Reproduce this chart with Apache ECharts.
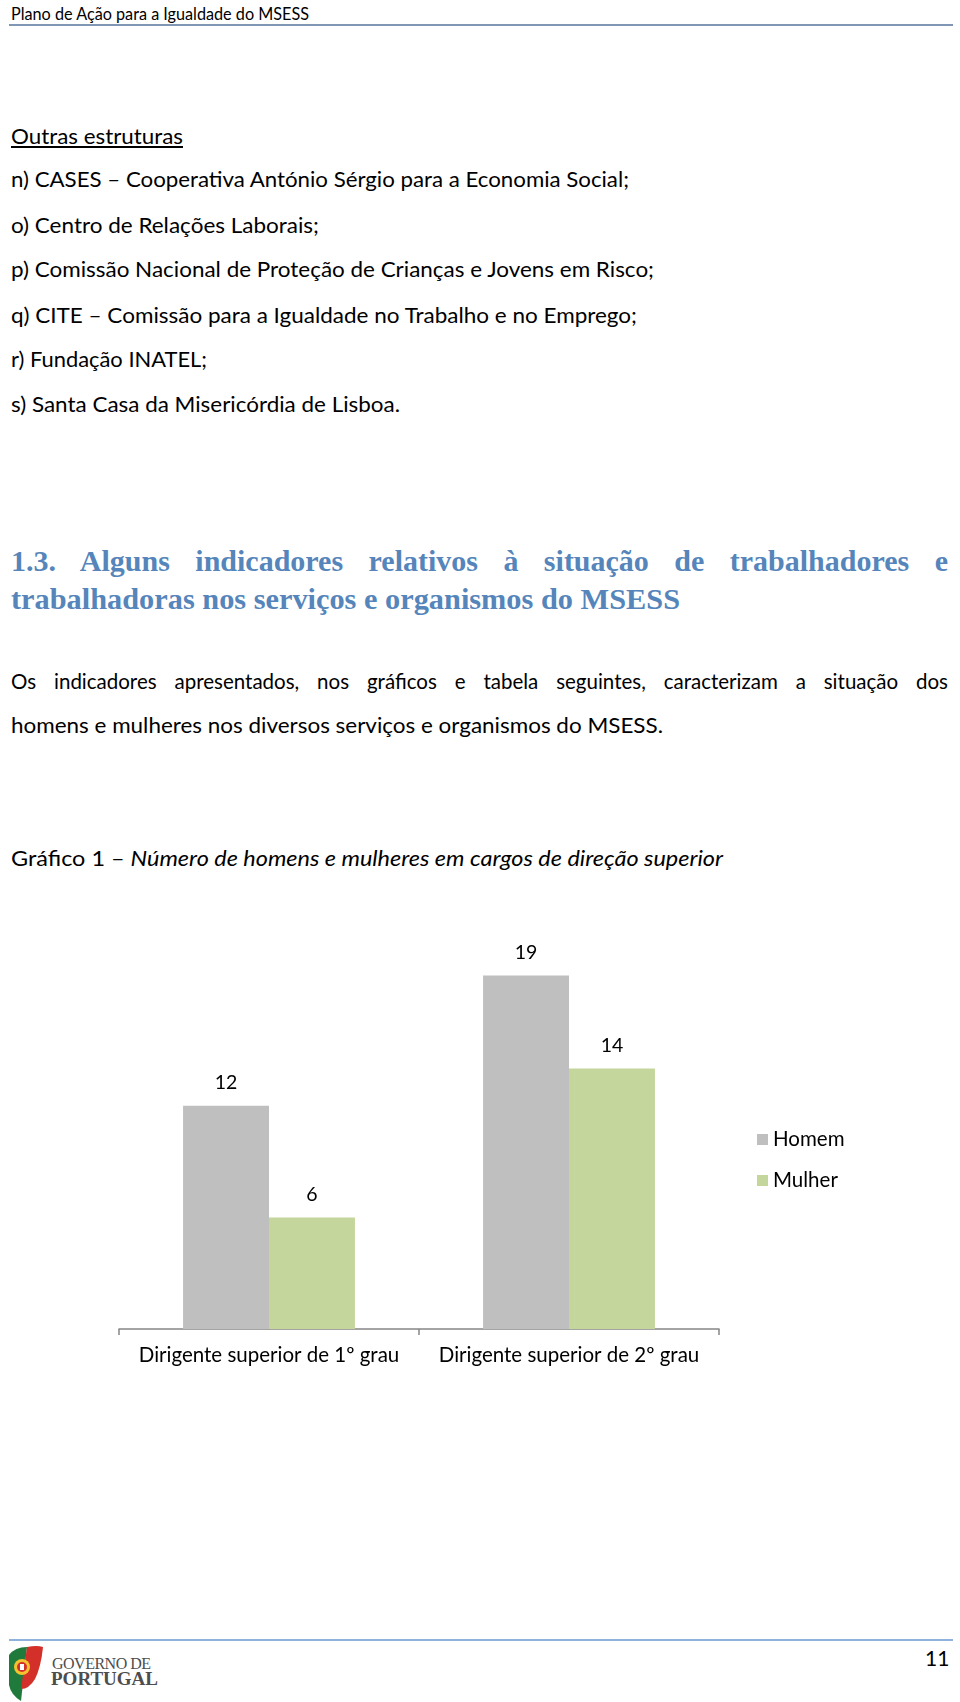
<!DOCTYPE html>
<html>
<head>
<meta charset="utf-8">
<script src="https://cdn.jsdelivr.net/npm/echarts@6/dist/echarts.min.js"></script>
<style>
  html, body { margin:0; padding:0; background:#fff; }
  #page { position:relative; width:960px; height:1702px; overflow:hidden; font-family:Lato, "Noto Sans", sans-serif; color:#000; }
  .ln { position:absolute; left:11px; white-space:nowrap; font-size:20.5px; line-height:24px; height:24px; transform-origin:0 50%; }
  .hd { font-family:"Liberation Serif", "DejaVu Serif", serif; font-weight:bold; color:#5585ba; font-size:30px; line-height:34px; height:34px; }
  .just { white-space:normal; text-align:justify; text-align-last:justify; }
  .rule { position:absolute; left:9px; width:944px; height:2px; }
  #chart { position:absolute; left:0; top:900px; width:960px; height:500px; }
</style>
</head>
<body>
<div id="page">
  <div class="ln" data-w="298" style="top:2px;font-size:17px;">Plano de Ação para a Igualdade do MSESS</div>
  <div class="rule" style="top:24px;background:#7f97b4;"></div>

  <div class="ln" data-w="172" style="top:124px;text-decoration:underline;">Outras estruturas</div>
  <div class="ln" data-w="618" style="top:167px;">n) CASES – Cooperativa António Sérgio para a Economia Social;</div>
  <div class="ln" data-w="308" style="top:213px;">o) Centro de Relações Laborais;</div>
  <div class="ln" data-w="643" style="top:257px;">p) Comissão Nacional de Proteção de Crianças e Jovens em Risco;</div>
  <div class="ln" data-w="626" style="top:303px;">q) CITE – Comissão para a Igualdade no Trabalho e no Emprego;</div>
  <div class="ln" data-w="196" style="top:347px;">r) Fundação INATEL;</div>
  <div class="ln" data-w="389" style="top:392px;">s) Santa Casa da Misericórdia de Lisboa.</div>

  <div class="ln hd just" style="top:544px;width:937px;">1.3. Alguns indicadores relativos à situação de trabalhadores e</div>
  <div class="ln hd" data-w="669" style="top:582px;">trabalhadoras nos serviços e organismos do MSESS</div>

  <div class="ln just" style="top:669px;width:937px;">Os indicadores apresentados, nos gráficos e tabela seguintes, caracterizam a situação dos</div>
  <div class="ln" data-w="652" style="top:713px;">homens e mulheres nos diversos serviços e organismos do MSESS.</div>

  <div class="ln" data-w="712" style="top:846px;">Gráfico 1 – <i>Número de homens e mulheres em cargos de direção superior</i></div>

  <div id="chart"></div>

  <div class="rule" style="top:1639px;background:#8fb2dc;"></div>
  <svg style="position:absolute;left:5px;top:1645px;" width="40" height="57" viewBox="0 0 40 57">
    <path d="M4 10 Q10 2 22 2 L16 56 Q6 50 4 40 Z" fill="#1f7a3c"/>
    <path d="M22 2 Q32 0 38 2 Q36 22 30 34 Q24 44 16 44 Z" fill="#d3302a"/>
    <circle cx="17" cy="22" r="8" fill="#f2c230"/>
    <circle cx="17" cy="22" r="5" fill="#d3302a"/>
    <rect x="15" y="19" width="4" height="6" fill="#fff"/>
  </svg>
  <div style="position:absolute;left:52px;top:1655px;font-family:'Liberation Serif',serif;font-size:16px;line-height:18px;color:#4d4d4d;letter-spacing:-0.5px;">GOVERNO DE</div>
  <div style="position:absolute;left:51px;top:1669px;font-family:'Liberation Serif',serif;font-weight:bold;font-size:19px;line-height:20px;color:#4d4d4d;">PORTUGAL</div>
  <div style="position:absolute;left:925px;top:1646px;font-size:21px;line-height:24px;">11</div>
</div>

<script>
// ---- data ----
const categories = ["Dirigente superior de 1º grau", "Dirigente superior de 2º grau"];
const seriesNames = ["Homem", "Mulher"];
const homem = [12, 19];
const mulher = [6, 14];
const yMax = 20;

// fit text lines to reference widths
function fitLines() {
  document.querySelectorAll('.ln[data-w]').forEach(el => {
    el.style.transform = 'none';
    el.style.display = 'inline-block';
    const w = el.getBoundingClientRect().width;
    const target = +el.dataset.w;
    if (w > 0) el.style.transform = 'scaleX(' + (target / w) + ')';
  });
}
fitLines();
if (document.fonts && document.fonts.ready) document.fonts.ready.then(fitLines);

const chart = echarts.init(document.getElementById('chart'), null, {renderer: 'canvas'});
const font = 'Lato';
chart.setOption({
  animation: false,
  color: ['#bfbfbf', '#c4d69c'],
  legend: {
    orient: 'vertical',
    left: 752,
    top: 224,
    itemWidth: 11,
    itemHeight: 11,
    itemGap: 20,
    icon: 'rect',
    textStyle: { fontFamily: font, fontSize: 20.5, color: '#000' },
    data: seriesNames
  },
  grid: { left: 119, right: 241, top: 57, bottom: 71, containLabel: false },
  xAxis: {
    type: 'category',
    data: categories,
    axisLine: { lineStyle: { color: '#878787', width: 1.5 } },
    axisTick: { show: true, alignWithLabel: false, length: 6, lineStyle: { color: '#878787', width: 1.5 } },
    axisLabel: { interval: 0, hideOverlap: false, fontFamily: font, fontSize: 20.5, color: '#000', margin: 16 }
  },
  yAxis: {
    type: 'value', min: 0, max: yMax, show: false,
    splitLine: { show: false }
  },
  series: [
    {
      name: seriesNames[0], type: 'bar', data: homem,
      barGap: '0%', barCategoryGap: '42.7%',
      label: { show: true, position: 'top', distance: 13, fontFamily: font, fontSize: 19.5, color: '#000' }
    },
    {
      name: seriesNames[1], type: 'bar', data: mulher,
      barGap: '0%', barCategoryGap: '42.7%',
      label: { show: true, position: 'top', distance: 13, fontFamily: font, fontSize: 19.5, color: '#000' }
    }
  ]
});
</script>
</body>
</html>
